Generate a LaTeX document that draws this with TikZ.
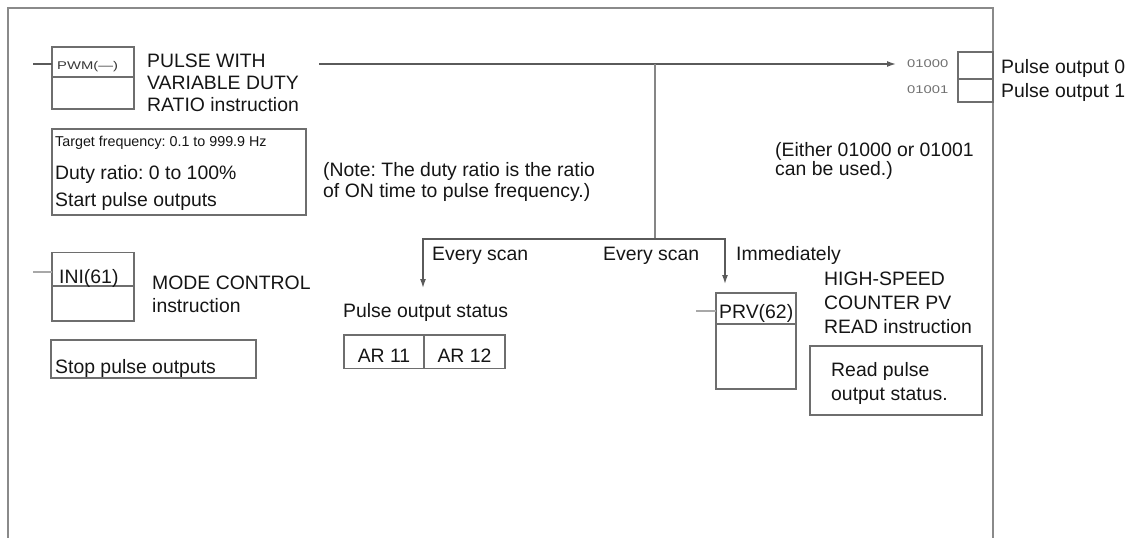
\documentclass[tikz,border=0pt]{standalone}
\usepackage{fontspec}
\setmainfont{Liberation Sans}
\newfontfamily\widefont[FakeStretch=1.32]{Liberation Sans}
\usetikzlibrary{arrows.meta,calc}
\frenchspacing
\definecolor{framegray}{HTML}{8A8A8A}
\definecolor{boxgray}{HTML}{6E6E6E}
\definecolor{linegray}{HTML}{5A5A5A}
\definecolor{lightgray2}{HTML}{A8A8A8}
\definecolor{txtcol}{HTML}{151515}
\definecolor{smallgray}{HTML}{707070}
\tikzset{
  boxshape/.style={draw=boxgray, line width=1.4pt, rectangle, inner sep=0pt, outer sep=0pt, anchor=north west},
  maintxt/.style={inner sep=0pt, anchor=base west, text=txtcol, font=\fontsize{19.4}{22}\selectfont},
  midtxt/.style={inner sep=0pt, anchor=base west, text=txtcol, font=\fontsize{14.3}{16}\selectfont},
  widetxt/.style={inner sep=0pt, anchor=base west, text=smallgray, font=\widefont\fontsize{11.2}{12}\selectfont},
  wire/.style={draw=linegray, line width=1.4pt},
  stub/.style={draw=lightgray2, line width=1.8pt},
  arr/.style={wire, -{Latex[length=9pt,width=6pt]}},
}
\begin{document}
\begin{tikzpicture}[x=1pt,y=-1pt]
\useasboundingbox (0,0) rectangle (1135,538);
% frame
\draw[framegray, line width=2pt] (8,538) -- (8,8) -- (993,8) -- (993,538);

% boxes
\node[boxshape, minimum width=82pt, minimum height=62pt] (pwm) at (52,47) {};
\draw[boxgray, line width=1.4pt] ([yshift=-30pt]pwm.north west) -- ([yshift=-30pt]pwm.north east);
\node[boxshape, minimum width=254pt, minimum height=86pt] (tgt) at (52,129) {};
\node[boxshape, minimum width=82pt, minimum height=68.5pt] (ini) at (52,252.5) {};
\draw[boxgray, line width=1.4pt] ([yshift=-33.5pt]ini.north west) -- ([yshift=-33.5pt]ini.north east);
\node[boxshape, minimum width=205pt, minimum height=38pt] (stop) at (51,340) {};
\node[boxshape, minimum width=80pt, minimum height=33.5pt] (ar11) at (344,335) {};
\node[boxshape, minimum width=81pt, minimum height=33.5pt] (ar12) at (424,335) {};
\node[boxshape, minimum width=80pt, minimum height=96pt] (prv) at (716,293) {};
\draw[boxgray, line width=1.4pt] ([yshift=-31pt]prv.north west) -- ([yshift=-31pt]prv.north east);
\node[boxshape, minimum width=172pt, minimum height=69pt] (readbox) at (810,346) {};
\node[boxshape, minimum width=35pt, minimum height=27pt] (out0) at (958,52) {};
\node[boxshape, minimum width=35pt, minimum height=23pt] (out1) at (958,79) {};

% texts
\node[widetxt, text=txtcol!85] (pwmt) at (57,69.5) {PWM(\textemdash)};
\node[maintxt] (pwa) at (147,67) {PULSE WITH};
\node[maintxt] (pwb) at (147,89) {VARIABLE DUTY};
\node[maintxt] (pwc) at (147,111) {RATIO instruction};
\node[midtxt] (tf) at (55,146) {Target frequency: 0.1 to 999.9 Hz};
\node[maintxt] (dr) at (55,179) {Duty ratio: 0 to 100\%};
\node[maintxt] (sp) at (55,206) {Start pulse outputs};
\node[maintxt] (na) at (323,176) {(Note: The duty ratio is the ratio};
\node[maintxt] (nb) at (323,197) {of ON time to pulse frequency.)};
\node[widetxt] (o0) at (907,67) {01000};
\node[widetxt] (o1) at (907,93) {01001};
\node[maintxt] (po0) at (1001,73) {Pulse output 0};
\node[maintxt] (po1) at (1001,97) {Pulse output 1};
\node[maintxt] (ea) at (775,156) {(Either 01000 or 01001};
\node[maintxt] (eb) at (775,175) {can be used.)};
\node[maintxt] (es1) at (432,260) {Every scan};
\node[maintxt] (es2) at (603,260) {Every scan};
\node[maintxt] (imm) at (736,260) {Immediately};
\node[maintxt] (init) at (59,283) {INI(61)};
\node[maintxt] (mca) at (152,289) {MODE CONTROL};
\node[maintxt] (mcb) at (152,312) {instruction};
\node[maintxt] (spo) at (55,373) {Stop pulse outputs};
\node[maintxt] (pos) at (343,317) {Pulse output status};
\node[maintxt, anchor=base] (ar11t) at ($(ar11.south)+(0,-6.5)$) {AR 11};
\node[maintxt, anchor=base] (ar12t) at ($(ar12.south)+(0,-6.5)$) {AR 12};
\node[maintxt] (prvt) at (719,318) {PRV(62)};
\node[maintxt] (hsa) at (824,285) {HIGH-SPEED};
\node[maintxt] (hsb) at (824,309) {COUNTER PV};
\node[maintxt] (hsc) at (824,333) {READ instruction};
\node[maintxt] (rpa) at (831,376) {Read pulse};
\node[maintxt] (rpb) at (831,400) {output status.};

% connectors
\coordinate (pwmin) at (33,64);
\coordinate (iniin) at (33,272);
\coordinate (prvin) at (696,311);
\coordinate (mstart) at (319,64);
\coordinate (junc) at (655,64);
\coordinate (jdown) at (655,239);
\coordinate (lb) at (423,239);
\coordinate (rb) at (725,239);
\coordinate (lbend) at (423,288);
\coordinate (rbend) at (725,284);
\coordinate (mend) at (896,64);

\draw[wire] (pwmin) -- (pwm.west |- pwmin);
\draw[stub] (iniin) -- (ini.west |- iniin);
\draw[stub] (prvin) -- (prv.west |- prvin);
\draw[arr] (mstart) -- (mend);
\draw[draw=lightgray2!80!black, line width=1.6pt] (junc) -- (jdown);
\draw[arr] (jdown) -- (lb) -- (lbend);
\draw[arr] (jdown) -- (rb) -- (rbend);
\end{tikzpicture}
\end{document}
